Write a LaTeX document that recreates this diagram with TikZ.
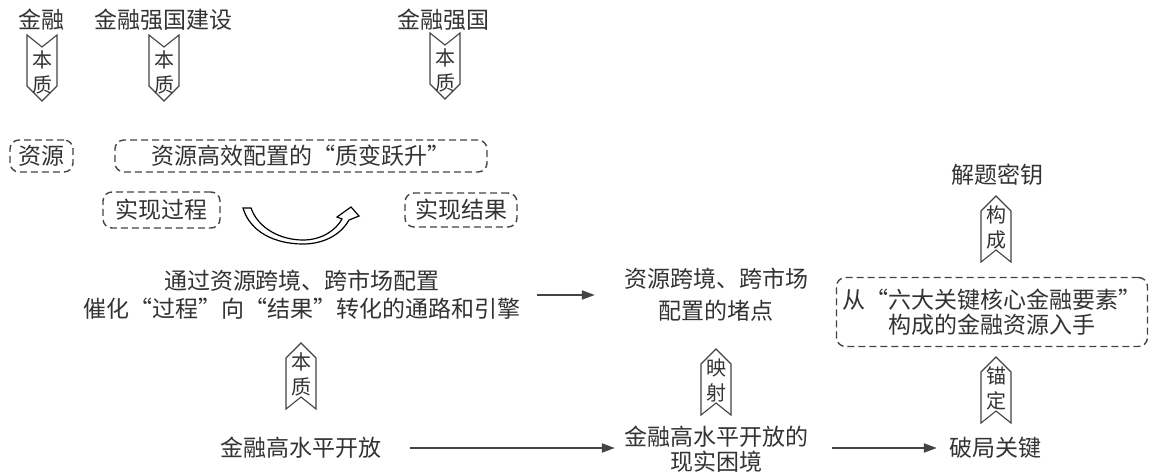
\documentclass[tikz,border=0pt]{standalone}
\usepackage{fontspec}
\newfontfamily\cjk{Noto Sans CJK SC}[RawFeature=+fwid]
\usetikzlibrary{arrows.meta}
\definecolor{ink}{HTML}{333333}
\definecolor{linec}{HTML}{444444}
\begin{document}
\begin{tikzpicture}[x=1pt,y=-1pt,
 txt/.style={font=\cjk\fontsize{23}{29}\selectfont, text=ink, align=center, inner sep=0pt},
 dbox/.style={txt, draw=linec, line width=1.4pt, dash pattern=on 7pt off 4pt, rounded corners=9pt},
 chevtxt/.style={font=\cjk\fontsize{20}{25}\selectfont, text=ink, align=center, inner sep=0pt},
 chev/.style={draw=linec, line width=1.1pt, line join=miter},
 arr/.style={draw=linec, line width=2pt, -{Triangle[length=13pt,width=9pt]}},
 pics/chevdown/.style={code={
   \draw[chev] (-15,-33) -- (0,-21) -- (15,-33) -- (15,18) -- (0,33) -- (-15,18) -- cycle;
   \node[chevtxt] (-t) at (0,4) {#1};}},
 pics/chevup/.style={code={
   \draw[chev] (0,-33) -- (15,-18) -- (15,33) -- (0,21) -- (-15,33) -- (-15,-18) -- cycle;
   \node[chevtxt] (-t) at (0,-2) {#1};}}
]
\fill[white] (0,0) rectangle (1152,474);
\useasboundingbox (0,0) rectangle (1152,474);

% top labels
\node[txt] (t1) at (41,20) {金融};
\node[txt] (t2) at (163,20) {金融强国建设};
\node[txt] (t3) at (443,20) {金融强国};
\pic (c1) at (42,68) {chevdown={本\\质}};
\pic (c2) at (164,68) {chevdown={本\\质}};
\pic (c3) at (445,66) {chevdown={本\\质}};

% dashed boxes
\node[dbox, minimum width=63pt, minimum height=32pt] (b1) at (41.5,156) {资源};
\node[dbox, minimum width=372pt, minimum height=32pt] (b2) at (301,156) {资源高效配置的“质变跃升”};
\node[dbox, minimum width=117pt, minimum height=36pt] (b3) at (161.5,210) {实现过程};
\node[dbox, minimum width=112pt, minimum height=34pt] (b4) at (461,210) {实现结果};

% hollow curved arrow
\draw[line width=1.2pt, draw=black, fill=white, line join=miter]
  (243,208) -- (251,208)
  .. controls (258,228) and (280,240) .. (303,240)
  .. controls (322,240) and (336,230) .. (342,219)
  -- (337,217) -- (351,207) -- (359,216) -- (349,220)
  .. controls (340,236) and (322,244) .. (303,244)
  .. controls (275,244) and (250,232) .. (243,208) -- cycle;

% middle row
\node[txt] (L) at (302,295) {通过资源跨境、跨市场配置\\[-1pt]催化“过程”向“结果”转化的通路和引擎};
\node[txt] (M) at (716,295) {资源跨境、跨市场\\[3pt]配置的堵点};
\draw[arr, shorten <=16.5pt, shorten >=29pt] (L.east) -- (L.east -| M.west);

% right column
\node[txt] (K) at (997,175) {解题密钥};
\pic (c4) at (996,229) {chevup={构\\成}};
\node[dbox, minimum width=311pt, minimum height=69pt] (b5) at (992,312) {从“六大关键核心金融要素”\\[-4pt]构成的金融资源入手};
\pic (c5) at (996,390) {chevup={锚\\定}};
\node[txt] (P) at (995,448) {破局关键};

% bottom row
\pic (c6) at (301,376) {chevup={本\\质}};
\pic (c7) at (716,382) {chevup={映\\射}};
\node[txt] (B) at (301,448) {金融高水平开放};
\node[txt] (R) at (716,449.5) {金融高水平开放的\\[-4pt]现实困境};
\draw[arr, shorten <=28.5pt, shorten >=9pt] (B.east) -- (B.east -| R.west);
\draw[arr, shorten <=24pt, shorten >=12pt] (B.east -| R.east) -- (P.west);
\end{tikzpicture}
\end{document}
